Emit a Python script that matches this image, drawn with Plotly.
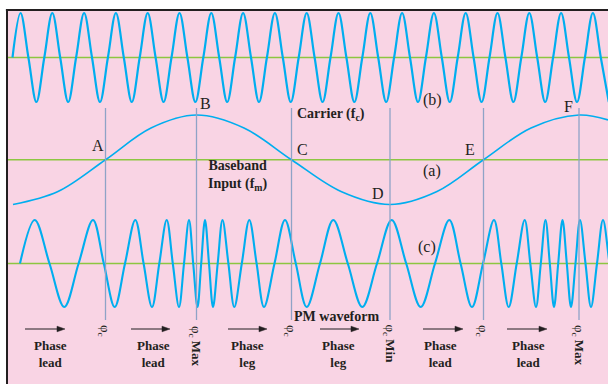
import plotly.graph_objects as go

# ---------------- data ----------------
# Carrier (b): positions of peaks, troughs and zero crossings
carrier_peaks_x = [20.5, 52.3, 84.1, 115.9, 147.7, 179.5, 211.3, 243.1, 274.9, 306.7,
                   338.5, 370.3, 402.1, 433.9, 465.7, 497.5, 529.3, 561.1, 592.9]
carrier_troughs_x = [36.4, 68.2, 100.0, 131.8, 163.6, 195.4, 227.2, 259.0, 290.8, 322.6,
                     354.4, 386.2, 418.0, 449.8, 481.6, 513.4, 545.2, 577.0, 608.8]
carrier_zero_x = [12.5, 28.4, 44.3, 60.2, 76.1, 92.0, 107.9, 123.8, 139.7, 155.6, 171.5,
                  187.4, 203.3, 219.2, 235.1, 251.0, 266.9, 282.8, 298.7, 314.6, 330.5,
                  346.4, 362.3, 378.2, 394.1, 410.0, 425.9, 441.8, 457.7, 473.6, 489.5,
                  505.4, 521.3, 537.2, 553.1, 569.0, 584.9, 600.8]

# Baseband input (a)
baseband_x = [13, 58, 105.5, 151, 196.5, 244, 291.5, 341, 390, 437, 483.5, 531, 579, 608]
baseband_y = [-1, -0.71, 0, 0.71, 1, 0.71, 0, -0.71, -1, -0.71, 0, 0.71, 1, 0.89]

# PM waveform (c)
pm_peaks_x = [34.7, 93, 135.3, 166.7, 189, 205, 222.5, 249.3, 285, 333.3, 391.7, 449.3,
              494, 524.7, 545.5, 562.5, 580, 603]
pm_troughs_x = [64.3, 114.7, 152, 179, 197.5, 213, 234.3, 264, 306.7, 362.3, 420.7, 472,
                508.7, 536, 554, 571, 591, 616]
pm_zero_x = [20, 49.5, 78.6, 103.8, 125, 143.6, 159.3, 172.8, 184, 193.2, 201.2, 209,
             217.7, 228.4, 241.8, 256.6, 274.5, 295.8, 320, 347.8, 377, 406.2, 435,
             460.6, 483, 501.3, 516.7, 530.3, 540.8, 549.8, 558.2, 566.8, 575.5, 585.5,
             597, 609.5]

point_names = ["A", "B", "C", "D", "E", "F"]
point_x = [105.5, 196.5, 291.5, 390, 483.5, 579]
phase_marks = ["φ<sub>c</sub>", "φ<sub>c</sub> <b>Max</b>", "φ<sub>c</sub>",
               "φ<sub>c</sub> <b>Min</b>", "φ<sub>c</sub>", "φ<sub>c</sub> <b>Max</b>"]
phase_labels = ["Phase<br>lead", "Phase<br>lead", "Phase<br>leg", "Phase<br>leg",
                "Phase<br>lead", "Phase<br>lead"]
phase_label_x = [50, 153, 247, 338, 440, 528]
arrow_start_x = [25, 131, 228, 320, 423, 507]
arrow_end_x = [65, 170, 267, 359, 463, 547]


def merge(peaks, troughs, zeros):
    pts = [(x, 1.0) for x in peaks] + [(x, -1.0) for x in troughs] + [(x, 0.0) for x in zeros]
    pts.sort()
    return [p[0] for p in pts], [p[1] for p in pts]


carrier_x, carrier_y = merge(carrier_peaks_x, carrier_troughs_x, carrier_zero_x)
pm_x, pm_y = merge(pm_peaks_x, pm_troughs_x, pm_zero_x)

# ---------------- layout geometry ----------------
W, H = 608, 384
ML, MT = 8, 11
PH = H - MT


def py(p):
    return 1 - (p - MT) / PH


def band(center_px, unit_px, top_px, bot_px):
    dom = [py(bot_px), py(top_px)]
    rng = [(center_px - bot_px) / unit_px, (center_px - top_px) / unit_px]
    return dom, rng


dom1, rng1 = band(57.5, 44.5, 11, 108)
dom2, rng2 = band(159.75, 44.75, 108, 212)
dom3, rng3 = band(263.5, 43.5, 212, 384)

CYAN = "#00AEEF"
GREEN = "#8DC641"
INK = "#231F20"
VLINE = "#8FA3C6"
PINK = "#F9D4E4"
SERIF = "Liberation Serif"

fig = go.Figure()
fig.add_trace(go.Scatter(x=carrier_x, y=carrier_y, mode="lines", yaxis="y",
                         line=dict(color=CYAN, width=2.2, shape="spline"), hoverinfo="skip"))
fig.add_trace(go.Scatter(x=baseband_x, y=baseband_y, mode="lines", yaxis="y2",
                         line=dict(color=CYAN, width=1.6, shape="spline"), hoverinfo="skip"))
fig.add_trace(go.Scatter(x=pm_x, y=pm_y, mode="lines", yaxis="y3",
                         line=dict(color=CYAN, width=2.1, shape="spline"), hoverinfo="skip"))

yax = dict(showgrid=False, showticklabels=False, ticks="", showline=False,
           zeroline=False, fixedrange=True)

shapes = [
    dict(type="rect", xref="paper", yref="paper", x0=0, x1=1, y0=0, y1=1,
         fillcolor=PINK, line=dict(width=0), layer="below"),
    dict(type="line", xref="paper", yref="paper", xsizemode="pixel", xanchor=0,
         x0=-1, x1=-1, y0=0, y1=1.005, line=dict(color=INK, width=2)),
    dict(type="line", xref="paper", yref="paper", ysizemode="pixel", yanchor=1,
         y0=1, y1=1, x0=-0.0035, x1=1, line=dict(color=INK, width=2)),
]
# green reference (zero) lines of the three waveforms
for yr in ["y", "y2", "y3"]:
    shapes.append(dict(type="line", xref="paper", yref=yr, x0=0, x1=1, y0=0, y1=0,
                       line=dict(color=GREEN, width=1.5), layer="below"))

for x in point_x:
    shapes.append(dict(type="line", xref="x", yref="paper", x0=x, x1=x,
                       y0=py(320), y1=py(108), line=dict(color=VLINE, width=1.3)))

# arrows: shaft + filled head
ARROW_Y = py(329)
for xs, xe in zip(arrow_start_x, arrow_end_x):
    shapes.append(dict(type="line", xref="x", yref="paper", x0=xs, x1=xe - 3,
                       y0=ARROW_Y, y1=ARROW_Y, line=dict(color=INK, width=1.2)))
    shapes.append(dict(type="path", xref="x", yref="paper", xsizemode="pixel",
                       ysizemode="pixel", xanchor=xe, yanchor=ARROW_Y,
                       path="M 0,0 L -8,2.8 L -8,-2.8 Z",
                       fillcolor=INK, line=dict(color=INK, width=0.5)))

ann = []


def label(text, x, y, size=16, bold=False, angle=0):
    t = f"<b>{text}</b>" if bold else text
    ann.append(dict(text=t, x=x, y=py(y), xref="x", yref="paper", showarrow=False,
                    xanchor="center", yanchor="middle", textangle=angle,
                    font=dict(family=SERIF, size=size, color=INK), align="center"))


letter_pos = [(98.3, 145), (205, 103.5), (302, 149), (378, 193), (470, 149), (568.5, 106.5)]
for name, (lx, ly) in zip(point_names, letter_pos):
    label(name, lx, ly, size=16)

label("(a)", 431.5, 171, size=16)
label("(b)", 432, 100, size=16)
label("(c)", 427, 246.5, size=16)
label("Carrier (f<sub>c</sub>)", 330.5, 115, size=14, bold=True)
label("Baseband<br>Input (f<sub>m</sub>)", 237, 175.5, size=14, bold=True)
label("PM waveform", 336.5, 316, size=14, bold=True)

mark_pos_y = [331, 346, 331, 344, 331, 345.5]
for x, txt, my in zip(point_x, phase_marks, mark_pos_y):
    label(txt, x - 0.5, my, size=13, angle=90)

for lx, txt in zip(phase_label_x, phase_labels):
    label(txt, lx, 353.7, size=13, bold=True)

fig.update_layout(
    width=W, height=H,
    margin=dict(l=ML, r=0, t=MT, b=0, pad=0),
    paper_bgcolor="white", plot_bgcolor="rgba(0,0,0,0)",
    showlegend=False,
    xaxis=dict(range=[8, 608], visible=False, fixedrange=True),
    yaxis=dict(domain=dom1, range=rng1, **yax),
    yaxis2=dict(domain=dom2, range=rng2, anchor="x", **yax),
    yaxis3=dict(domain=dom3, range=rng3, anchor="x", **yax),
    shapes=shapes,
    annotations=ann,
)

fig.write_html(
    "out.html",
    config={"displayModeBar": False},
    post_script="document.body.style.margin='0px';document.body.style.overflow='hidden';",
)
